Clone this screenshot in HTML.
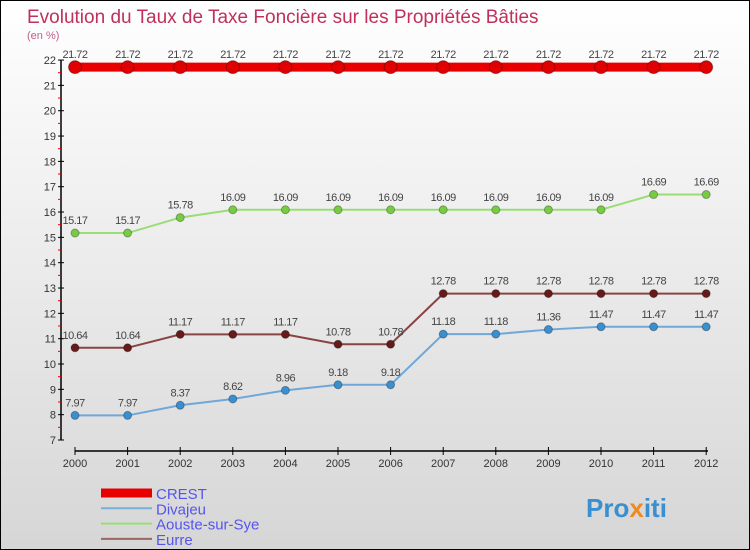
<!DOCTYPE html>
<html><head><meta charset="utf-8"><style>
body{margin:0}
#c{width:750px;height:550px;position:relative;box-sizing:border-box;border:1px solid #000;background:linear-gradient(#fff,#d6d6d6);font-family:"Liberation Sans",sans-serif;overflow:hidden}
</style></head><body>
<div id="c">
<svg id="s" width="748" height="548" style="position:absolute;left:0;top:0" font-family="Liberation Sans, sans-serif">
<text x="26" y="22" font-size="19" fill="#c0305a">Evolution du Taux de Taxe Foncière sur les Propriétés Bâties</text>
<text x="26" y="38" font-size="11" fill="#c0608a">(en %)</text>
<text x="585" y="516" font-size="26" font-weight="bold" fill="#3a8fd0">Pro<tspan fill="#f08a20">x</tspan>iti</text>
</svg>
</div>
<script>
const years=[2000,2001,2002,2003,2004,2005,2006,2007,2008,2009,2010,2011,2012];
const crest=[21.72,21.72,21.72,21.72,21.72,21.72,21.72,21.72,21.72,21.72,21.72,21.72,21.72];
const divajeu=[7.97,7.97,8.37,8.62,8.96,9.18,9.18,11.18,11.18,11.36,11.47,11.47,11.47];
const aouste=[15.17,15.17,15.78,16.09,16.09,16.09,16.09,16.09,16.09,16.09,16.09,16.69,16.69];
const eurre=[10.64,10.64,11.17,11.17,11.17,10.78,10.78,12.78,12.78,12.78,12.78,12.78,12.78];
const yTicks=[7,8,9,10,11,12,13,14,15,16,17,18,19,20,21,22];
const NS="http://www.w3.org/2000/svg";
const s=document.getElementById('s');
const X=i=>74+i*52.6;
const Y=v=>439-(v-7)*25.33;
function mk(t,a,p){const e=document.createElementNS(NS,t);for(const k in a)e.setAttribute(k,a[k]);(p||s).appendChild(e);return e;}
let ax=mk('line',{x1:60,y1:Y(22),x2:60,y2:Y(7),stroke:'#000','stroke-width':1.5});


yTicks.forEach(v=>{
 mk('line',{x1:57,y1:Y(v),x2:63,y2:Y(v),stroke:'#000'});
 if(v<22)mk('line',{x1:57,y1:Y(v+0.5),x2:60,y2:Y(v+0.5),stroke:'#e00'});
 const t=mk('text',{x:55,y:Y(v)+4,'font-size':11,fill:'#333','text-anchor':'end'});t.textContent=v;
 
 
});
let xa=mk('line',{x1:74,y1:450,x2:707,y2:450,stroke:'#000','stroke-width':1.5});


years.forEach((y,i)=>{
 mk('line',{x1:X(i),y1:446,x2:X(i),y2:454,stroke:'#000'});
 const t=mk('text',{x:X(i),y:466,'font-size':11,fill:'#333','text-anchor':'middle'});t.textContent=y;
 
 
});
function series(d,name,col,fill,w,r){
 const g=mk('g',{});
 
 
 mk('polyline',{points:d.map((v,i)=>X(i)+','+Y(v)).join(' '),fill:'none',stroke:col,'stroke-width':w},g);
 d.forEach((v,i)=>{
  const c=mk('circle',{cx:X(i),cy:Y(v),r:r,fill:fill,stroke:'rgba(0,0,0,0.3)','stroke-width':1},g);
  
  
  const t=mk('text',{x:X(i),y:Y(v)-9,'font-size':11,fill:'#444','text-anchor':'middle','letter-spacing':'-0.5'},g);
  t.textContent=v;
  
  
 });
}
series(crest,'crest','#e80000','#e00000',9,6.5);
series(aouste,'aouste-sur-sye','#99dd77','#77cc44',2,4);
series(eurre,'eurre','#884444','#661a1a',2,4);
series(divajeu,'divajeu','#6fa8d8','#3a8fd0',2,4);
const leg=[['CREST','#e80000',9],['Divajeu','#7aafd8',2],['Aouste-sur-Sye','#99dd77',2],['Eurre','#996666',2]];
leg.forEach((l,i)=>{
 const y=492+i*15.3;
 const g=mk('g',{});
 
 
 mk('line',{x1:100,y1:y,x2:151,y2:y,stroke:l[1],'stroke-width':l[2]},g);
 const t=mk('text',{x:155,y:y+6,'font-size':15,fill:'#5555ee'},g);t.textContent=l[0];
});
</script>
</body></html>
